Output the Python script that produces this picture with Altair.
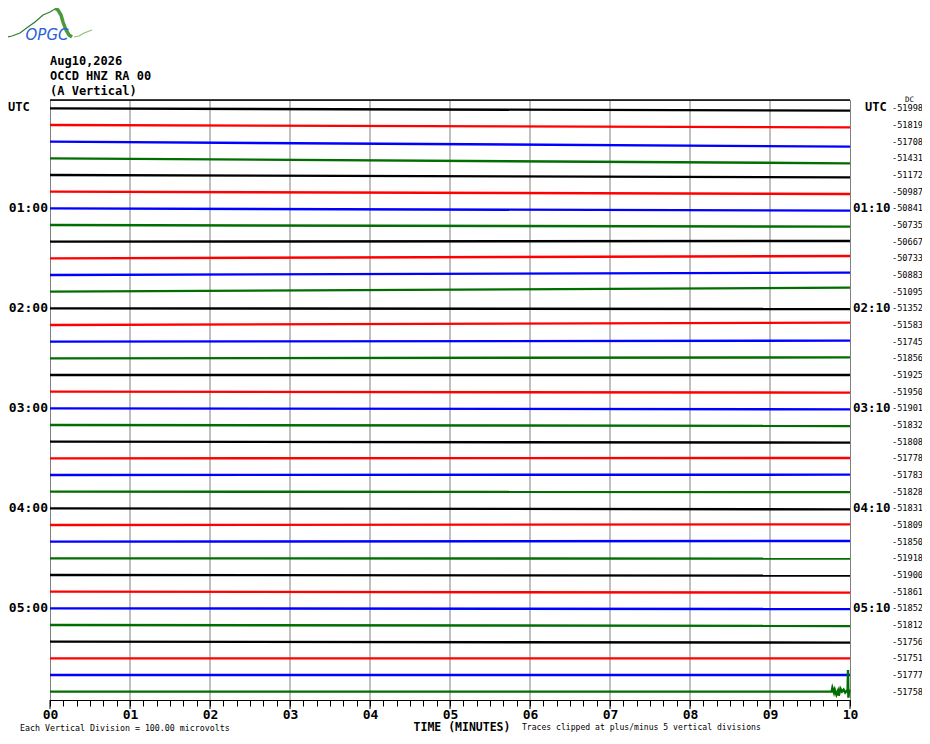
import altair as alt
import pandas as pd

# ---------------- data ----------------
n_rows = 36
trace_colors = ["#000000", "#ff0000", "#0000ff", "#006e00"]
# drift of each trace at the end of the 10-minute row (in trace-spacing units, + = down)
end_drift = [0.14, 0.14, 0.30, 0.30, 0.14, 0.14, 0.14, 0.10, -0.04, -0.14, -0.14, -0.24,
             0.04, -0.14, -0.06, -0.06, 0.00, 0.06, 0.06, 0.06, 0.06, -0.02, -0.02, 0.02,
             0.06, -0.04, -0.04, 0.02, 0.04, 0.06, 0.04, 0.06, 0.06, 0.00, 0.00, 0.00]
# burst at the end of the last (green) trace
burst_t = [9.78, 9.80, 9.81, 9.83, 9.85, 9.86, 9.88, 9.90, 9.92, 9.94, 9.96, 9.97, 9.975, 9.98, 9.99, 10.0]
burst_amp = [-0.24, 0.06, -0.12, 0.18, -0.06, 0.24, -0.18, 0.0, -0.12, 0.06, -0.06, 0.0, -1.3, 0.36, -0.06, 0.0]

dc_values = ["-51998", "-51819", "-51708", "-51431", "-51172", "-50987", "-50841", "-50735",
             "-50667", "-50733", "-50883", "-51095", "-51352", "-51583", "-51745", "-51856",
             "-51925", "-51950", "-51901", "-51832", "-51808", "-51778", "-51783", "-51828",
             "-51831", "-51809", "-51850", "-51918", "-51900", "-51861", "-51852", "-51812",
             "-51756", "-51751", "-51777", "-51758"]
hour_rows = [6, 12, 18, 24, 30]
left_hours = ["01:00", "02:00", "03:00", "04:00", "05:00"]
right_hours = ["01:10", "02:10", "03:10", "04:10", "05:10"]
minutes = list(range(0, 11))

header_lines = ["Aug10,2026", "OCCD HNZ RA 00", "(A Vertical)"]

# logo curve (page-pixel units of the small logo box)
logo_thin_x = [3, 12, 20, 28, 35, 43, 50, 55]
logo_thin_y = [38, 36, 33, 27, 22, 15, 12, 9]
logo_thick_x = [55, 58, 61, 63, 66, 69, 72]
logo_thick_y = [8, 10, 15, 22, 30, 35, 37]
logo_light_x = [74, 79, 84, 92]
logo_light_y = [37, 36, 33, 30]
logo_tick_x = [55, 55]
logo_tick_y = [3, 8]

FONT = "DejaVu Sans Mono"

# ---------------- build tables ----------------
rows = []
for i in range(n_rows):
    c = trace_colors[i % 4]
    base = i + 0.5
    if i == n_rows - 1:
        rows.append({"trace": i, "t": 0.0, "y": base, "color": c})
        rows.append({"trace": i, "t": burst_t[0] - 0.01, "y": base, "color": c})
        for t, a in zip(burst_t, burst_amp):
            rows.append({"trace": i, "t": t, "y": base + a, "color": c})
    else:
        rows.append({"trace": i, "t": 0.0, "y": base, "color": c})
        rows.append({"trace": i, "t": 10.0, "y": base + end_drift[i], "color": c})
traces_df = pd.DataFrame(rows)

tick_vals = [round(k / 6, 6) for k in range(61)]
label_expr = ("abs(datum.value - round(datum.value)) < 0.001 ? "
              "(round(datum.value) < 10 ? '0' + round(datum.value) : '' + round(datum.value)) : ''")

xscale = alt.Scale(domain=[0, 10], nice=False, zero=False)
yscale = alt.Scale(domain=[0, n_rows], reverse=True, nice=False, zero=False)
xaxis = alt.Axis(values=tick_vals, labelExpr=label_expr, tickSize=6, tickColor="black",
                 domainColor="black", labelColor="black", labelFont=FONT, labelFontWeight="bold",
                 labelFontSize=13, labelPadding=2, labelFlush=False, labelOverlap=False,
                 grid=False, title=None)


def X(field):
    return alt.X(field, scale=xscale, axis=xaxis)


def Y(field):
    return alt.Y(field, scale=yscale, axis=None)


def note(label, x, y, align="left", size=12, weight="normal"):
    return alt.Chart(pd.DataFrame({"label": [label]})).mark_text(
        align=align, baseline="middle", font=FONT, fontSize=size, fontWeight=weight,
        color="black").encode(x=alt.value(x), y=alt.value(y), text="label:N")


grid = alt.Chart(pd.DataFrame({"t": minutes[1:-1]})).mark_rule(
    color="#808080", strokeWidth=1).encode(x=X("t:Q"))

major_ticks = alt.Chart(pd.DataFrame({"t": minutes})).mark_rule(
    color="black", strokeWidth=1).encode(x=X("t:Q"), y=alt.value(600), y2=alt.value(609))

top_border = alt.Chart(pd.DataFrame({"a": [0]})).mark_rule(color="black", strokeWidth=1.5).encode(
    x=alt.value(0), x2=alt.value(800), y=alt.value(0))

traces = alt.Chart(traces_df).mark_line(strokeWidth=2.4, interpolate="linear").encode(
    x=X("t:Q"), y=Y("y:Q"), detail="trace:N", color=alt.Color("color:N", scale=None))

dc_df = pd.DataFrame({"y": [i + 0.5 for i in range(n_rows)], "label": dc_values})
dc_text = alt.Chart(dc_df).mark_text(align="left", baseline="middle", font=FONT, fontSize=8.6,
                                      color="black").encode(
    x=alt.value(842), y=Y("y:Q"), text="label:N")

hours_df = pd.DataFrame({"y": [r + 0.5 for r in hour_rows], "left": left_hours, "right": right_hours})
left_text = alt.Chart(hours_df).mark_text(align="right", baseline="middle", font=FONT, fontSize=13,
                                          fontWeight="bold", color="black").encode(
    x=alt.value(-2), y=Y("y:Q"), text="left:N")
right_text = alt.Chart(hours_df).mark_text(align="left", baseline="middle", font=FONT, fontSize=12.5,
                                           fontWeight="bold", color="black").encode(
    x=alt.value(803), y=Y("y:Q"), text="right:N")

utc_df = pd.DataFrame({"y": [0.4], "label": ["UTC"]})
utc_left = alt.Chart(utc_df).mark_text(align="left", baseline="middle", font=FONT, fontSize=12,
                                       fontWeight="bold", color="black").encode(
    x=alt.value(-42), y=Y("y:Q"), text="label:N")
utc_right = alt.Chart(utc_df).mark_text(align="left", baseline="middle", font=FONT, fontSize=12,
                                        fontWeight="bold", color="black").encode(
    x=alt.value(815), y=Y("y:Q"), text="label:N")
dc_head = note("DC", 855, 0, size=7.5)

header = [note(txt, 0, y, size=12, weight="bold") for txt, y in zip(header_lines, [-39, -24, -9])]

bottom_left = note("Each Vertical Division =  100.00 microvolts", -30, 629, size=8.3)
bottom_title = note("TIME (MINUTES)", 412, 628, align="center", size=11.5, weight="bold")
bottom_right = note("Traces clipped at plus/minus 5 vertical divisions", 472, 628, size=8.1)

main = alt.layer(grid, major_ticks, top_border, traces, dc_text, left_text, right_text,
                 utc_left, utc_right, dc_head, *header, bottom_left, bottom_title, bottom_right)

# ---------------- logo ----------------
lx_scale = alt.Scale(domain=[0, 100], range=[-50, 50], nice=False, zero=False)
ly_scale = alt.Scale(domain=[0, 45], range=[-100, -55], nice=False, zero=False)


def logo_line(xs, ys, color, width):
    return alt.Chart(pd.DataFrame({"lx": xs, "ly": ys, "o": list(range(len(xs)))})).mark_line(
        color=color, strokeWidth=width).encode(
        x=alt.X("lx:Q", scale=lx_scale, axis=None),
        y=alt.Y("ly:Q", scale=ly_scale, axis=None),
        order="o:Q")


logo_text = alt.Chart(pd.DataFrame({"lx": [47], "ly": [35], "label": ["OPGC"]})).mark_text(
    align="center", baseline="middle", font="DejaVu Sans", fontSize=15, fontStyle="italic",
    color="#2b5fd9").encode(
    x=alt.X("lx:Q", scale=lx_scale, axis=None),
    y=alt.Y("ly:Q", scale=ly_scale, axis=None),
    text="label:N")

logo = alt.layer(
    logo_line(logo_thin_x, logo_thin_y, "#2e7d32", 1.2),
    logo_line(logo_thick_x, logo_thick_y, "#4a9a3a", 3.5),
    logo_line(logo_light_x, logo_light_y, "#8fc070", 1.2),
    logo_line(logo_tick_x, logo_tick_y, "#2e7d32", 1),
    logo_text,
)

chart = alt.layer(main, logo).resolve_scale(x="independent", y="independent").properties(
    width=800, height=600,
    autosize=alt.AutoSizeParams(type="none"),
    padding={"left": 42, "top": 92, "right": 72, "bottom": 34},
    background="white",
).configure_view(stroke="#808080", strokeWidth=1)

chart.save("out.html", embed_options={"renderer": "svg", "actions": False})
